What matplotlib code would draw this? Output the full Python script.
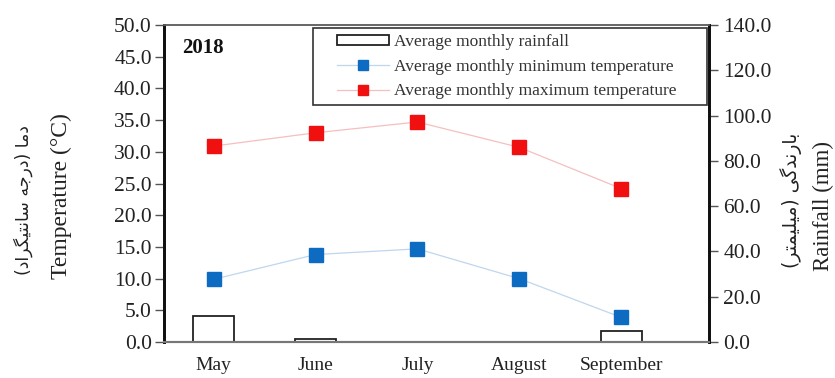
import numpy as np
import matplotlib.pyplot as plt
from matplotlib.patches import Rectangle
from matplotlib.ticker import FormatStrFormatter

months = ['May', 'June', 'July', 'August', 'September']
t_min = [9.9, 13.8, 14.7, 10.0, 3.9]
t_max = [30.9, 33.0, 34.7, 30.7, 24.2]
rainfall = [11.5, 1.3, 0.0, 0.0, 5.0]

# Persian labels, pre-shaped (presentation forms, visual order)
fa_temp = ('(\uFEA9\uFE8D\uFEAE\uFB95\uFEF4\uFE98\uFEE7\uFE8E\uFEB3 '
           '\uFEEA\uFE9F\uFEAD\uFEA9) \uFE8E\uFEE3\uFEA9')
fa_rain = ('(\uFEAE\uFE98\uFEE4\uFEF4\uFEE0\uFEF4\uFEE3) '
           '\uFEF0\uFB94\uFEAA\uFEE7\uFEAD\uFE8E\uFE91')

plt.rcParams['font.family'] = ['Liberation Serif', 'DejaVu Sans']
plt.rcParams['text.color'] = '#222222'

fig = plt.figure(figsize=(8.35, 3.78), dpi=100)
ax = fig.add_axes([0.196, 0.095, 0.653, 0.839])
ax2 = ax.twinx()

x = np.arange(len(months))

# rainfall bars on the right axis, behind the temperature lines
bars = ax2.bar(x, rainfall, width=0.4, facecolor='white', edgecolor='#222222',
               linewidth=1.3, label='Average monthly rainfall')
ax2.set_ylim(0, 140)
ax2.set_yticks(np.arange(0, 141, 20))
ax2.yaxis.set_major_formatter(FormatStrFormatter('%.1f'))

l_min, = ax.plot(x, t_min, color='#BFD6EE', linewidth=0.9, marker='s',
                 markersize=10, markerfacecolor='#0E6BC2', markeredgecolor='#0E6BC2',
                 label='Average monthly minimum temperature')
l_max, = ax.plot(x, t_max, color='#F5BFC0', linewidth=0.9, marker='s',
                 markersize=10, markerfacecolor='#F01010', markeredgecolor='#F01010',
                 label='Average monthly maximum temperature')

ax.set_zorder(ax2.get_zorder() + 1)
ax.patch.set_visible(False)

ax.set_ylim(0, 50)
ax.set_yticks(np.arange(0, 51, 5))
ax.yaxis.set_major_formatter(FormatStrFormatter('%.1f'))
ax.set_xlim(-0.49, 4.86)
ax.set_xticks(x)
ax.set_xticklabels(months)

ax.tick_params(axis='x', length=0, pad=11, labelsize=14, labelcolor='#222222')
ax.tick_params(axis='y', length=6.5, width=1, color='#555555', labelsize=15.5,
               labelcolor='#222222', pad=2)
ax2.tick_params(axis='y', length=6.5, width=1, color='#555555', labelsize=15.5,
                labelcolor='#222222', pad=4)

for a in (ax, ax2):
    a.spines['top'].set_color('#666666')
    a.spines['top'].set_linewidth(1.2)
    a.spines['bottom'].set_color('#777777')
    a.spines['bottom'].set_linewidth(1.5)
    a.spines['left'].set_color('#111111')
    a.spines['left'].set_linewidth(2)
    a.spines['right'].set_color('#111111')
    a.spines['right'].set_linewidth(2)

ax.text(0.033, 0.927, '2018', transform=ax.transAxes, fontsize=15,
        fontweight='bold', ha='left', va='center', color='#111111')

# legend box is wider than its content (extra space on the right)
frame = Rectangle((0.3749, 0.7222), 0.4719, 0.2037, transform=fig.transFigure,
                  facecolor='white', edgecolor='#333333', linewidth=1.2,
                  zorder=4.9, clip_on=False)
ax.add_artist(frame)

leg = ax.legend([bars, l_min, l_max],
                ['Average monthly rainfall', 'Average monthly minimum temperature',
                 'Average monthly maximum temperature'],
                loc='upper left', bbox_to_anchor=(0.4036, 0.91),
                bbox_transform=fig.transFigure, fontsize=12.5, frameon=False,
                handlelength=3.0, handleheight=0.5, handletextpad=0.3,
                labelspacing=0.5, borderpad=0, borderaxespad=0, markerscale=0.75)
for t in leg.get_texts():
    t.set_color('#333333')

fig.text(0.073, 0.481, 'Temperature (°C)', rotation=90, ha='center', va='center',
         fontsize=17)
fig.text(0.028, 0.471, fa_temp, rotation=90, ha='center', va='center',
         fontsize=12.5, family=['DejaVu Sans'])
fig.text(0.986, 0.455, 'Rainfall (mm)', rotation=90, ha='center', va='center',
         fontsize=16.5)
fig.text(0.947, 0.471, fa_rain, rotation=90, ha='center', va='center',
         fontsize=13.5, family=['DejaVu Sans'])

fig.savefig('out.png', dpi=100)
